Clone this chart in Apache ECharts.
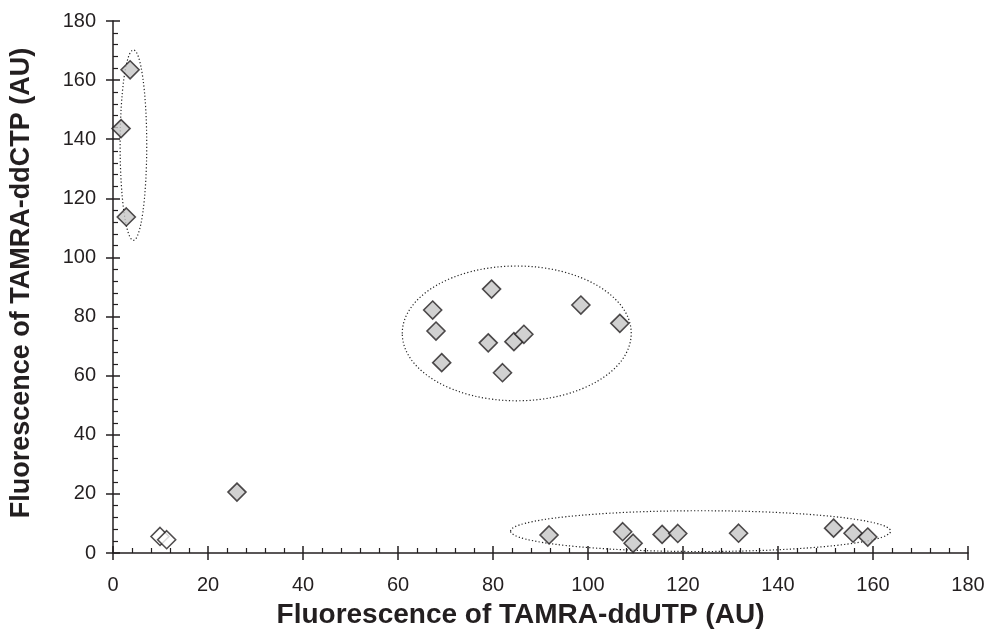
<!DOCTYPE html>
<html>
<head>
<meta charset="utf-8">
<script src="https://cdn.jsdelivr.net/npm/echarts@6/dist/echarts.min.js"></script>
<style>
  html, body { margin: 0; padding: 0; background: #fff; }
  #chart { width: 988px; height: 630px; }
</style>
</head>
<body>
<div id="chart"></div>
<script>
// grey diamonds
var filledX = [3.6, 1.7, 2.8, 79.7, 67.3, 98.5, 106.7, 68.0, 79.0, 84.4, 86.5, 69.2, 82.0, 26.1,
  91.8, 107.3, 109.5, 115.6, 118.9, 131.7, 151.7, 155.8, 158.9];
var filledY = [163.5, 143.6, 113.7, 89.3, 82.2, 83.9, 77.7, 75.1, 71.1, 71.5, 74.0, 64.4, 61.0, 20.6,
  6.1, 7.2, 3.3, 6.3, 6.6, 6.7, 8.4, 6.7, 5.4];
// white diamonds
var openX = [9.9, 11.3];
var openY = [5.6, 4.5];
// dotted groups (center x, center y, half width, half height) in axis units
var groupCx = [4.3, 85.0, 123.7];
var groupCy = [138, 74.3, 7.4];
var groupRx = [2.8, 24.1, 40.0];
var groupRy = [32.2, 22.8, 6.9];

var axisMin = 0, axisMax = 180, axisStep = 20;
var xTitle = "Fluorescence of TAMRA-ddUTP (AU)";
var yTitle = "Fluorescence of TAMRA-ddCTP (AU)";

function pairs(xs, ys) {
  var out = [];
  for (var i = 0; i < xs.length; i++) out.push([xs[i], ys[i]]);
  return out;
}

var font = "'Liberation Sans', Arial, Helvetica, sans-serif";
var ink = "#231f20";

// main axis: line, inside ticks, minor ticks, labels
function mainAxis(isX) {
  return {
    type: "value",
    gridIndex: 0,
    position: isX ? "bottom" : "left",
    min: axisMin,
    max: axisMax,
    interval: axisStep,
    name: isX ? xTitle : yTitle,
    nameLocation: "middle",
    nameGap: isX ? 48 : 78,
    nameTextStyle: {
      fontFamily: font,
      fontWeight: "bold",
      fontSize: isX ? 28 : 27,
      color: ink,
      padding: isX ? [0, 40, 0, 0] : [0, 0, 0, 8]
    },
    axisLine: { show: true, onZero: false, lineStyle: { color: ink, width: 1.5 } },
    axisTick: { show: true, inside: true, length: 7, lineStyle: { color: ink, width: 1.5 } },
    minorTick: { show: true, splitNumber: 5, length: 5, lineStyle: { color: ink, width: 1.2 } },
    axisLabel: {
      show: true,
      fontFamily: font,
      fontSize: 20,
      color: ink,
      margin: isX ? 22 : 17,
      showMinLabel: true,
      showMaxLabel: true
    },
    splitLine: { show: false },
    minorSplitLine: { show: false }
  };
}

// twin axis: only the outer half of the major ticks
function outerTicks(isX) {
  return {
    type: "value",
    gridIndex: 0,
    position: isX ? "bottom" : "left",
    min: axisMin,
    max: axisMax,
    interval: axisStep,
    axisLine: { show: false, onZero: false },
    axisTick: { show: true, inside: false, length: 7, lineStyle: { color: ink, width: 1.5 } },
    axisLabel: { show: false },
    splitLine: { show: false }
  };
}

var diamond = {
  type: "scatter",
  symbol: "diamond",
  symbolSize: [18, 18],
  xAxisIndex: 0,
  yAxisIndex: 0,
  silent: true
};

var myChart = echarts.init(document.getElementById("chart"), null, { renderer: "canvas" });
var option = {
  animation: false,
  backgroundColor: "#fff",
  grid: { left: 113, right: 20, top: 21, bottom: 77, containLabel: false, outerBoundsMode: "none" },
  xAxis: [mainAxis(true), outerTicks(true)],
  yAxis: [mainAxis(false), outerTicks(false)],
  series: [
    Object.assign({}, diamond, {
      name: "filled",
      data: pairs(filledX, filledY),
      itemStyle: { color: "#c6c6c6", borderColor: "#231f20", borderWidth: 1.6 }
    }),
    Object.assign({}, diamond, {
      name: "open",
      data: pairs(openX, openY),
      itemStyle: { color: "#ffffff", borderColor: "#231f20", borderWidth: 1.6 }
    })
  ]
};
option && myChart.setOption(option);

// dotted ellipses, placed through the axes
var rings = [];
for (var i = 0; i < groupCx.length; i++) {
  var c = myChart.convertToPixel({ gridIndex: 0 }, [groupCx[i], groupCy[i]]);
  var e = myChart.convertToPixel({ gridIndex: 0 }, [groupCx[i] + groupRx[i], groupCy[i] + groupRy[i]]);
  rings.push({
    type: "ellipse",
    silent: true,
    z: 1,
    shape: { cx: c[0], cy: c[1], rx: Math.abs(e[0] - c[0]), ry: Math.abs(c[1] - e[1]) },
    style: { fill: null, stroke: "#222222", lineWidth: 1.2, lineDash: [1.2, 2.2] }
  });
}
myChart.setOption({ graphic: rings });
</script>
</body>
</html>
